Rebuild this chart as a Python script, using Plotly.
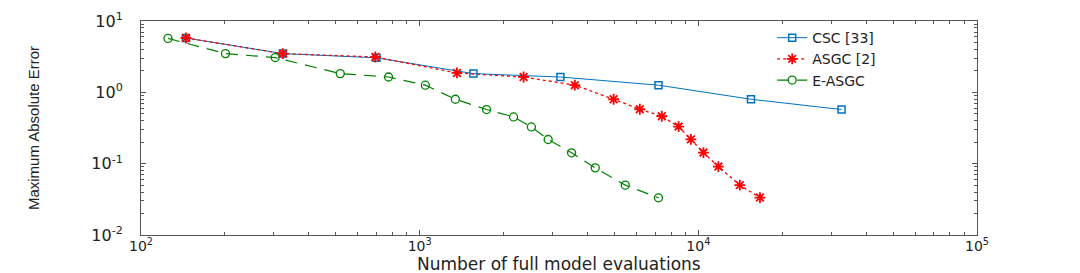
import plotly.graph_objects as go

# ---- data ----
csc_n = [145, 323, 700, 1559, 3199, 7194, 15450, 32650]
csc_e = [5.78, 3.49, 3.05, 1.83, 1.64, 1.26, 0.80, 0.574]

asgc_n = [145, 323, 693, 1361, 2360, 3604, 4966, 6166, 7393, 8494, 9404, 10430, 11800, 14090, 16640]
asgc_e = [5.78, 3.49, 3.13, 1.87, 1.64, 1.26, 0.80, 0.579, 0.462, 0.331, 0.219, 0.143, 0.091, 0.050, 0.0335]

easgc_n = [125, 201, 303, 519, 773, 1048, 1343, 1738, 2173, 2517, 2891, 3508, 4267, 5469, 7194]
easgc_e = [5.7, 3.49, 3.07, 1.83, 1.64, 1.26, 0.80, 0.574, 0.452, 0.327, 0.218, 0.142, 0.0873, 0.050, 0.0332]

x_ticks = [1e2, 1e3, 1e4, 1e5]
x_labels = ["10<sup>2</sup>", "10<sup>3</sup>", "10<sup>4</sup>", "10<sup>5</sup>"]
y_ticks = [1e-2, 1e-1, 1e0, 1e1]
y_labels = ["10<sup>-2</sup>", "10<sup>-1</sup>", "10<sup>0</sup>", "10<sup>1</sup>"]

x_title = "Number of full model evaluations"
y_title = "Maximum Absolute Error"

x_minor = [m * 10 ** k for k in range(2, 5) for m in range(2, 10)]
y_minor = [m * 10 ** k for k in range(-2, 1) for m in range(2, 10)]

BLUE = "#0072BD"
RED = "#FF0000"
GREEN = "#008000"

fig = go.Figure()
fig.add_trace(go.Scatter(
    x=csc_n, y=csc_e, name="CSC [33]", mode="lines+markers",
    line=dict(color=BLUE, width=1),
    marker=dict(symbol="square-open", size=7, color=BLUE, line=dict(width=1.5, color=BLUE)),
))
fig.add_trace(go.Scatter(
    x=asgc_n, y=asgc_e, name="ASGC [2]", mode="lines+markers",
    line=dict(color=RED, width=1.3, dash="dot"),
    marker=dict(symbol="asterisk-open", size=9, color=RED, line=dict(width=1.8, color=RED)),
))
fig.add_trace(go.Scatter(
    x=easgc_n, y=easgc_e, name="E-ASGC", mode="lines+markers",
    line=dict(color=GREEN, width=1.2, dash="12px,8px"),
    marker=dict(symbol="circle-open", size=8, color=GREEN, line=dict(width=1.3, color=GREEN)),
))

axis_common = dict(
    type="log", showgrid=False, zeroline=False, automargin=False,
    showline=True, linecolor="#555555", linewidth=1, mirror="allticks",
    ticks="inside", ticklen=5, tickcolor="#555555", tickwidth=1,
    tickmode="array",
)

fig.update_xaxes(
    **axis_common,
    range=[2, 5],
    tickvals=x_ticks, ticktext=x_labels,
    ticklabelstandoff=-2,
    tickfont=dict(family="DejaVu Sans", size=14, color="#222222"),
    minor=dict(tickmode="array", tickvals=x_minor, ticks="inside", ticklen=3,
               tickcolor="#555555", showgrid=False),
)
fig.update_yaxes(
    **axis_common,
    range=[-2, 1],
    tickvals=y_ticks, ticktext=y_labels,
    ticklabelstandoff=14,
    tickfont=dict(family="DejaVu Sans", size=16, color="#222222"),
    minor=dict(tickmode="array", tickvals=y_minor, ticks="inside", ticklen=3,
               tickcolor="#555555", showgrid=False),
    title=dict(text=y_title,
               font=dict(family="Liberation Sans Narrow, Liberation Sans", size=15, color="#222222"),
               standoff=48),
)

fig.add_annotation(
    text=x_title, xref="paper", yref="paper", x=0.5, y=-0.135,
    xanchor="center", yanchor="middle", showarrow=False,
    font=dict(family="DejaVu Sans", size=17, color="#222222"),
)

fig.update_layout(
    width=1080, height=273,
    margin=dict(l=141, r=103, t=21, b=38),
    paper_bgcolor="white", plot_bgcolor="white",
    showlegend=True,
    legend=dict(
        x=0.755, y=0.995, xanchor="left", yanchor="top",
        bgcolor="rgba(255,255,255,0)", borderwidth=0,
        font=dict(family="DejaVu Sans", size=14, color="#222222"),
        tracegroupgap=0, itemwidth=30,
    ),
)

# remove the default 8px page margin so the figure sits at the window's corner
fig.write_html("out.html", config={"displayModeBar": False},
               post_script="document.body.style.margin='0px';")
